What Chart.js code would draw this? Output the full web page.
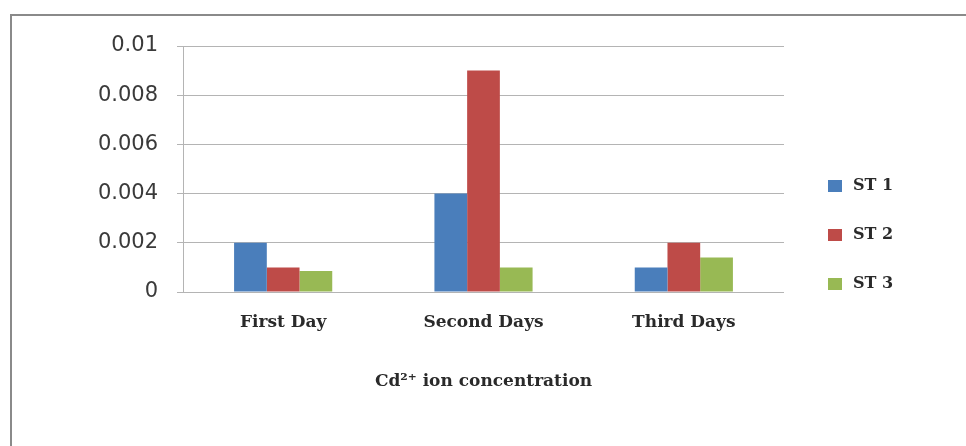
<!DOCTYPE html>
<html>
<head>
<meta charset="utf-8">
<script src="https://cdn.jsdelivr.net/npm/chart.js@4/dist/chart.umd.min.js"></script>
<style>
  html, body { margin: 0; padding: 0; background: #ffffff; }
  #wrap { position: relative; width: 966px; height: 446px; overflow: hidden; }
  #frame {
    position: absolute; left: 10px; top: 14px; right: -10px; bottom: -10px;
    border-top: 2px solid #8a8a8a; border-left: 2px solid #8a8a8a;
  }
  canvas { position: absolute; left: 0; top: 0; }
</style>
</head>
<body>
<div id="wrap">
  <div id="frame"></div>
  <canvas id="chart" width="966" height="446"></canvas>
</div>
<script>
// Cd2+ concentration measured at three stations over three days
const categories = ['First Day', 'Second Days', 'Third Days'];
const seriesNames = ['ST 1', 'ST 2', 'ST 3'];
const st1 = [0.002, 0.004, 0.001];
const st2 = [0.001, 0.009, 0.002];
const st3 = [0.00085, 0.001, 0.0014];
const yTicks = [0, 0.002, 0.004, 0.006, 0.008, 0.01];

const colors = ['#4a7ebb', '#be4b48', '#98b954'];
const serifBold = { family: '"DejaVu Serif", serif', size: 17, weight: 'bold' };

// Legend drawn as a vertical list to the right of the plot
const sideLegend = {
  id: 'sideLegend',
  afterDraw(chart) {
    const ctx = chart.ctx;
    const area = chart.chartArea;
    const x0 = area.right + 44;
    const yMid = (area.top + area.bottom) / 2 + 66;
    const gap = 49;
    ctx.save();
    ctx.font = 'bold 16px "DejaVu Serif", serif';
    ctx.textBaseline = 'middle';
    chart.data.datasets.forEach((ds, i) => {
      const y = yMid + (i - 1) * gap;
      ctx.fillStyle = ds.backgroundColor;
      ctx.fillRect(x0, y - 6, 14, 12);
      ctx.fillStyle = '#2a2a2a';
      ctx.fillText(ds.label, x0 + 25, y);
    });
    ctx.restore();
  }
};

const valuesBySeries = [st1, st2, st3];

new Chart(document.getElementById('chart'), {
  type: 'bar',
  data: {
    labels: categories,
    datasets: seriesNames.map((name, i) => ({
      label: name,
      data: valuesBySeries[i],
      backgroundColor: colors[i],
      borderWidth: 0,
      categoryPercentage: 0.49,
      barPercentage: 1.0
    }))
  },
  options: {
    responsive: false,
    animation: false,
    devicePixelRatio: 1,
    layout: { padding: { left: 0, right: 182, top: 46, bottom: 54 } },
    plugins: {
      legend: { display: false },
      tooltip: { enabled: false }
    },
    scales: {
      x: {
        grid: { display: false },
        border: { display: false },
        ticks: { font: serifBold, color: '#2a2a2a', padding: 12 },
        title: {
          display: true,
          text: 'Cd\u00B2\u207A ion concentration',
          font: serifBold,
          color: '#2a2a2a',
          padding: { top: 30, bottom: 0 }
        },
        afterFit(scale) { scale.height = 100; }
      },
      y: {
        min: 0,
        max: 0.01,
        afterBuildTicks(scale) { scale.ticks = yTicks.map(v => ({ value: v })); },
        ticks: {
          font: { family: '"DejaVu Sans", sans-serif', size: 21 },
          color: '#3a3a3a',
          padding: 19,
          callback: v => String(Number(v.toFixed(4)))
        },
        grid: { color: '#b4b4b4', lineWidth: 1, tickLength: 6, drawTicks: true },
        border: { color: '#b4b4b4', width: 1 },
        afterFit(scale) { scale.width = 183; }
      }
    }
  },
  plugins: [sideLegend]
});
</script>
</body>
</html>
